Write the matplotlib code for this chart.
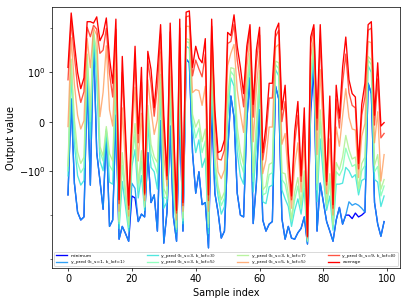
import matplotlib
matplotlib.use("Agg")
import matplotlib.pyplot as plt
import numpy as np

plt.rcParams['font.size'] = 11

# sample index 0..99
samples = list(range(100))

average = [1.3, 22, 4.5, 1.0, 0.67, 0.89, 14, 14, 13, 18,
           5.2, 7.4, 17, 2.1, 0.78, 16, -4.5, 2.3, -0.2, -6,
           0.02, 3.9, -0.24, 1.3, -3.2, 3.0, 1.17, 0.28, 1.17, 12,
           0.13, -1.3, 13, 0.02, -7.8, 16, -5.2, 23, 24.5, 1.3,
           3.9, 2.1, 1.65, 5.8, -3.5, 16, 0.24, -0.63, -0.59, -0.37,
           8, 6.8, 20, 3.9, 1.3, 0.57, 3.9, 12, 0.35, 3.2,
           10.5, -0.63, -0.09, 0.78, 0.78, 8.6, 13, 0.24, 0.74, -0.63,
           -3.7, -0.2, 0.41, -1.3, 0.28, -30, 6.3, 12, 0.07, 12,
           0.35, -1.74, 0.52, -5.8, 0.74, 0.07, 1.3, 6.3, 0.85, 0.57,
           0.5, -0.85, 0.35, 0.78, 12, 14, 0.13, 1.65, -0.09, -0.02]

pred_9_8 = [0.85, 14.2, 2.34, 0.72, 0.39, 0.61, 10.5, 6.4, 11.6, 9.5,
            2.7, 3.2, 10, 0.98, 0.5, 9.5, -5.5, 1.0, -0.41, -7.4,
            -0.11, 1.9, -0.43, 0.8, -3.5, 1.8, 0.78, 0.11, 0.72, 7.4,
            -0.15, -1.57, 8.2, -0.2, -9, 10, -6.1, 18, 19, 0.93,
            1.9, 1.2, 0.91, 2.6, -4.7, 11, 0.07, -0.76, -0.78, -0.57,
            4.5, 5, 12.2, 1.9, 0.8, 0.3, 2.7, 9.0, 0.09, 1.65,
            7, -0.78, -0.33, 0.48, 0.48, 6.4, 9.0, 0, 0.41, -0.8,
            -4.5, -0.43, 0.13, -1.74, 0.04, -31, 4.5, 10, -0.17, 5.5,
            0.13, -2.1, 0.24, -7, 0.46, -0.13, 0.78, 2.6, 0.59, 0.33,
            0.28, -0.96, 0.13, 0.5, 9, 10, -0.07, 0.87, -0.33, -0.24]

pred_5_5 = [-0.1, 6.1, 0.76, 0.13, -0.15, 0.02, 5.8, 1.28, 10, 7,
            0.1, 0.6, 4.0, 0.24, -0.09, 3.9, -8.2, 0.28, -0.87, -10.5,
            -0.37, 0.7, -0.8, 0.17, -4.7, 0.85, 0.24, -0.26, 0.04, 2.9,
            -0.7, -2.2, 2.9, -0.61, -12.9, 4.0, -8.2, 11, 11, 0.59,
            0.65, 0.63, 0.33, 0.72, -8.2, 5.5, -0.28, -1.05, -1.5, -0.98,
            1.42, 2.7, 4.3, 0.65, 0.17, -0.22, 1.28, 5.2, -0.41, 0.67,
            3.0, -1.16, -0.78, -0.11, -0.11, 3.7, 4.3, -0.46, -0.24, -1.35,
            -7, -0.89, -0.43, -3.0, -0.41, -33, 2.2, 7, -0.67, 1.16,
            -0.28, -3.3, -0.35, -10, -0.11, -0.5, 0.11, 0.67, 0.09, -0.15,
            -0.17, -1.42, -0.3, -0.04, 5, 4.7, -0.43, 0.2, -1.7, -0.67]

pred_3_7 = [-0.9, 2.0, 0.04, -0.61, -0.85, -0.72, 2.6, 0.24, 8.2, 2.8,
            -0.5, -0.7, -0.1, -0.65, -0.8, 1.16, -14, -0.63, -2.7, -16.5,
            -0.7, -0.04, -1.9, -0.59, -6.4, 0.33, -0.46, -0.72, -0.83, 0.96,
            -2.5, -3.7, 0.91, -1.28, -19, 1.28, -11.6, 5.8, 5.5, 0.15,
            -0.11, 0.04, -0.41, -0.15, -15.7, 2.3, -0.72, -2.2, -4.5, -3.0,
            0.52, 1.28, 1.22, -0.11, -0.61, -0.87, 0.72, 2.7, -1.1, -0.02,
            1.1, -2.7, -2.2, -0.87, -0.83, 1.8, 1.65, -1.1, -1.16, -3.3,
            -12.2, -3.0, -1.42, -5.8, -1.0, -37, 0.98, 4.5, -1.9, 0.24,
            -0.78, -5.5, -1.16, -16.5, -0.83, -0.98, -0.72, -0.28, -0.57, -0.76,
            -0.72, -2.5, -0.85, -0.72, 2.3, 1.9, -0.89, -0.67, -2.6, -1.57]

pred_3_5 = [-1.0, 1.5, -0.17, -0.83, -1.1, -0.93, 2.1, 0, 8, 1.5,
            -0.6, -0.8, -0.15, -0.89, -1.0, 0.91, -15.7, -0.89, -3.9, -19,
            -0.78, -0.26, -2.7, -0.8, -6.7, 0.17, -0.65, -0.85, -1.16, 0.8,
            -3.9, -4.3, 0.76, -1.8, -21, 0.98, -13.5, 5, 4.7, 0.02,
            -0.33, -0.13, -0.63, -0.39, -19, 1.8, -0.85, -2.7, -6.1, -4.1,
            0.33, 1.05, 0.93, -0.33, -0.83, -1.1, 0.61, 2.2, -1.74, -0.22,
            0.91, -3.5, -3.2, -1.22, -1.1, 1.5, 1.22, -1.57, -2.0, -4.5,
            -14, -4.5, -2.2, -7, -1.42, -39, 0.87, 4.0, -2.7, 0,
            -0.91, -6.4, -1.8, -19, -1.05, -1.28, -0.96, -0.54, -0.74, -0.91,
            -0.87, -2.9, -1.0, -0.89, 1.9, 1.5, -1.05, -0.91, -3.7, -2.2]

pred_3_3 = [-1.3, 0.98, -0.46, -1.28, -2.1, -1.65, 1.57, -0.35, 7, 0.8,
            -0.8, -1.0, -0.18, -1.8, -2.0, 0.72, -20, -1.74, -6.4, -23,
            -0.91, -0.57, -4.1, -1.28, -7.8, -0.04, -0.93, -1.05, -2.6, 0.61,
            -7, -5, 0.54, -2.9, -24, 0.78, -15.7, 3.9, 3.5, -0.15,
            -0.63, -0.37, -0.93, -0.74, -26, 1.28, -1.05, -3.7, -9.5, -6.4,
            0.09, 0.89, 0.72, -0.63, -1.35, -2.0, 0.46, 1.65, -3.0, -0.5,
            0.74, -5, -5.5, -2.3, -2.1, 1.16, 0.93, -2.7, -4.3, -6.4,
            -18, -7.8, -4.3, -9.5, -2.5, -40, 0.72, 3.2, -5, -0.35,
            -1.35, -7.8, -3.7, -22, -2.0, -2.0, -1.9, -0.93, -1.0, -1.42,
            -1.22, -3.5, -1.65, -1.5, 1.42, 1.0, -1.57, -1.8, -6.4, -3.7]

pred_1_1 = [-3.5, 0.46, -1.9, -8.6, -12.9, -11, 0.83, -2.1, 5.8, -0.63,
            -1.65, -7.4, -0.2, -18, -12.9, 0.13, -35, -18, -26, -39,
            -1.9, -2.5, -14, -9.5, -11, -0.63, -5.2, -3.5, -23, 0.02,
            -43, -8.6, -0.09, -11, -39, 0.24, -23, 2.0, 1.65, -0.63,
            -3.2, -1.05, -5.8, -5.2, -55, 0.67, -3.2, -8.6, -33, -23,
            -0.63, 0.52, 0.09, -3.2, -10, -11, 0.02, 0.89, -15.5, -1.9,
            0.24, -12.9, -23, -16, -14, 0.72, 0.46, -12, -35, -18,
            -33, -35, -25, -20, -11, -45, 0.3, 2.0, -23, -1.9,
            -5.2, -14, -23, -39, -12.9, -6.7, -16, -10, -5, -6,
            -5.5, -6, -7, -8.6, 0.78, 0.57, -5.2, -16, -30, -14]

minimum = [-3.5, 0.46, -1.9, -8.6, -12.9, -11, 0.83, -2.1, 5.8, -0.63,
           -1.65, -7.4, -0.2, -18, -12.9, 0.13, -35, -18, -26, -39,
           -3.7, -4.1, -14, -9.5, -11, -0.63, -5.2, -3.5, -23, 0.02,
           -43, -8.6, -0.09, -11, -39, 0.24, -23, 2.0, 1.65, -0.63,
           -3.2, -1.05, -5.8, -5.2, -55, 0.3, -3.2, -8.6, -33, -23,
           -0.63, 0.52, 0.09, -3.2, -10, -11, 0.02, 0.89, -15.5, -1.9,
           0.24, -12.9, -23, -16, -14, 0.72, 0.46, -12, -35, -18,
           -33, -35, -25, -20, -11, -45, 0.2, 1.2, -23, -1.9,
           -5.2, -14, -23, -39, -12.9, -6.7, -16, -10, -10, -12,
           -9, -11, -10, -8.6, 0.78, 0.57, -5.2, -16, -30, -14]

series = [
    ("minimum", minimum, "#0000ff", 1.0),
    ("y_pred (k_s=1, k_lof=1)", pred_1_1, "#1996f3", 0.9),
    ("y_pred (k_s=3, k_lof=3)", pred_3_3, "#33e3d9", 0.85),
    ("y_pred (k_s=3, k_lof=5)", pred_3_5, "#80ffb4", 0.85),
    ("y_pred (k_s=3, k_lof=7)", pred_3_7, "#b2f296", 0.9),
    ("y_pred (k_s=5, k_lof=5)", pred_5_5, "#ff9650", 0.75),
    ("y_pred (k_s=9, k_lof=8)", pred_9_8, "#ff2914", 0.8),
    ("average", average, "#ff0000", 1.0),
]

fig, ax = plt.subplots(figsize=(411 / 64, 306 / 64), dpi=64)
for label, vals, color, alpha in series:
    ax.plot(samples, vals, color=color, alpha=alpha, label=label)

ax.set_yscale("symlog", linthresh=1)
ax.set_ylim(-157, 30)
ax.set_yticks([-1, 0, 1])
ax.set_xticks([0, 20, 40, 60, 80, 100])
ax.set_xlabel("Sample index")
ax.set_ylabel("Output value")
ax.legend(loc="lower left", ncol=4, mode="expand", bbox_to_anchor=(0, 0, 1, 1),
          fontsize=5, handlelength=2.5)

fig.subplots_adjust(left=0.127, right=0.973, top=0.977, bottom=0.124)
plt.savefig("out.png", dpi=64)
